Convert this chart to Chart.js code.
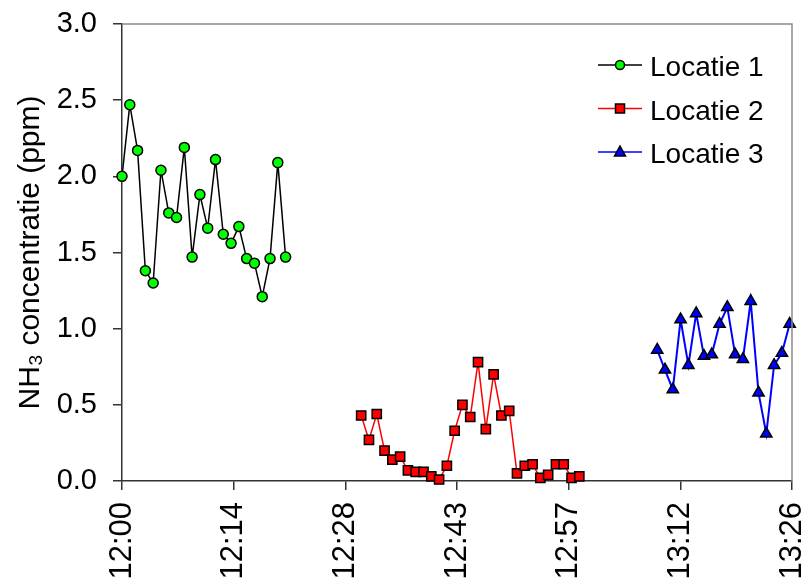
<!DOCTYPE html>
<html>
<head>
<meta charset="utf-8">
<script src="https://cdn.jsdelivr.net/npm/chart.js@4.4.1/dist/chart.umd.min.js"></script>
<style>
    html, body { margin: 0; padding: 0; background: #fff; overflow: hidden; }
    #wrap { width: 803px; height: 581px; position: relative; }
</style>
</head>
<body>
<div id="wrap"><canvas id="chart"></canvas></div>
<script>
// time axis in minutes after 12:00
const tickMinutes = [0, 14.33, 28.67, 43, 57.33, 71.67, 86];
const tickLabels = ['12:00', '12:14', '12:28', '12:43', '12:57', '13:12', '13:26'];

const loc1Time = [0, 1, 2, 3, 4, 5, 6, 7, 8, 9, 10, 11, 12, 13, 14, 15, 16, 17, 18, 19, 20, 21];
const loc1Values = [2.00, 2.47, 2.17, 1.38, 1.30, 2.04, 1.76, 1.73, 2.19, 1.47, 1.88,
                    1.66, 2.11, 1.62, 1.56, 1.67, 1.46, 1.43, 1.21, 1.46, 2.09, 1.47];

const loc2Time = [30.7, 31.7, 32.7, 33.7, 34.7, 35.7, 36.7, 37.7, 38.7, 39.7, 40.7, 41.7,
                  42.7, 43.7, 44.7, 45.7, 46.7, 47.7, 48.7, 49.7, 50.7, 51.7, 52.7, 53.7,
                  54.7, 55.7, 56.7, 57.7, 58.7];
const loc2Values = [0.43, 0.27, 0.44, 0.20, 0.14, 0.16, 0.07, 0.06, 0.06, 0.03, 0.01, 0.10,
                    0.33, 0.50, 0.42, 0.78, 0.34, 0.70, 0.43, 0.46, 0.05, 0.10, 0.11, 0.02,
                    0.04, 0.11, 0.11, 0.02, 0.03];

const loc3Time = [68.7, 69.7, 70.7, 71.7, 72.7, 73.7, 74.7, 75.7, 76.7, 77.7, 78.7, 79.7,
                  80.7, 81.7, 82.7, 83.7, 84.7, 85.7];
const loc3Values = [0.86, 0.73, 0.60, 1.06, 0.76, 1.10, 0.82, 0.83, 1.03, 1.14, 0.83, 0.80,
                    1.18, 0.58, 0.31, 0.76, 0.84, 1.03];

const seriesLabels = ['Locatie 1', 'Locatie 2', 'Locatie 3'];

const FONT = '"Liberation Sans", Arial, sans-serif';

function toPoints(times, values) {
    return times.map((t, i) => ({ x: t, y: values[i] }));
}

// grey frame on top and right of the plot area
const framePlugin = {
    id: 'frame',
    afterDraw(chart) {
        const { ctx, chartArea: a } = chart;
        ctx.save();
        ctx.strokeStyle = '#8a8a8a';
        ctx.lineWidth = 1.5;
        ctx.beginPath();
        ctx.moveTo(a.left, a.top);
        ctx.lineTo(a.right, a.top);
        ctx.lineTo(a.right, a.bottom);
        ctx.stroke();
        ctx.restore();
    }
};

// legend inside the plot, line with marker in the middle
const legendPlugin = {
    id: 'innerLegend',
    afterDraw(chart) {
        const ctx = chart.ctx;
        chart.data.datasets.forEach((ds, i) => {
            const y = 65 + i * 43.5;
            const mx = 620;
            ctx.save();
            ctx.strokeStyle = ds.borderColor;
            ctx.lineWidth = 1.5;
            ctx.beginPath();
            ctx.moveTo(598, y);
            ctx.lineTo(642, y);
            ctx.stroke();

            ctx.fillStyle = ds.pointBackgroundColor;
            ctx.strokeStyle = '#000';
            ctx.lineWidth = 1.5;
            ctx.beginPath();
            if (ds.pointStyle === 'circle') {
                ctx.arc(mx, y, 4.5, 0, Math.PI * 2);
            } else if (ds.pointStyle === 'rect') {
                ctx.rect(mx - 4.5, y - 4.5, 9, 9);
            } else {
                ctx.moveTo(mx, y - 6);
                ctx.lineTo(mx + 5.5, y + 4);
                ctx.lineTo(mx - 5.5, y + 4);
                ctx.closePath();
            }
            ctx.fill();
            ctx.stroke();

            ctx.fillStyle = '#000';
            ctx.font = '28px ' + FONT;
            ctx.textBaseline = 'alphabetic';
            ctx.textAlign = 'left';
            ctx.fillText(ds.label, 650, y + 11);
            ctx.restore();
        });
    }
};

const ctx = document.getElementById('chart').getContext('2d');
new Chart(ctx, {
    type: 'line',
    data: {
        datasets: [
            {
                label: seriesLabels[0],
                data: toPoints(loc1Time, loc1Values),
                borderColor: '#000000',
                borderWidth: 1.5,
                pointStyle: 'circle',
                pointRadius: 5,
                pointBackgroundColor: '#00ff00',
                pointBorderColor: '#000000',
                pointBorderWidth: 1.5,
                tension: 0,
                clip: false
            },
            {
                label: seriesLabels[1],
                data: toPoints(loc2Time, loc2Values),
                borderColor: '#ff0000',
                borderWidth: 1.5,
                pointStyle: 'rect',
                pointRadius: 6.5,
                pointBackgroundColor: '#ff0000',
                pointBorderColor: '#000000',
                pointBorderWidth: 1.5,
                tension: 0,
                clip: false
            },
            {
                label: seriesLabels[2],
                data: toPoints(loc3Time, loc3Values),
                borderColor: '#0000ff',
                borderWidth: 2,
                pointStyle: 'triangle',
                pointRadius: 6.5,
                pointBackgroundColor: '#0000ff',
                pointBorderColor: '#000000',
                pointBorderWidth: 1.5,
                tension: 0,
                clip: false
            }
        ]
    },
    options: {
        responsive: true,
        maintainAspectRatio: false,
        animation: false,
        layout: { padding: { top: 24, right: 11, left: 0, bottom: 0 } },
        plugins: {
            legend: { display: false },
            tooltip: { enabled: false }
        },
        scales: {
            x: {
                type: 'linear',
                min: 0,
                max: 86,
                afterBuildTicks: function(scale) {
                    scale.ticks = tickMinutes.map(v => ({ value: v }));
                },
                afterFit: function(scale) {
                    scale.height = 100;
                    scale.paddingLeft = 0;
                    scale.paddingRight = 0;
                },
                border: { display: true, color: '#333', width: 1.5 },
                grid: { drawOnChartArea: false, drawTicks: true, tickLength: 9, color: '#333', lineWidth: 1.5 },
                ticks: {
                    autoSkip: false,
                    minRotation: 90,
                    maxRotation: 90,
                    padding: 12,
                    color: '#000',
                    font: { family: FONT, size: 31 },
                    callback: function(value, index) {
                        return tickLabels[index];
                    }
                }
            },
            y: {
                min: 0,
                max: 3,
                afterFit: function(scale) {
                    scale.width = 122;
                    scale.paddingTop = 0;
                    scale.paddingBottom = 0;
                },
                border: { display: true, color: '#333', width: 1.5 },
                grid: { drawOnChartArea: false, drawTicks: true, tickLength: 9, color: '#333', lineWidth: 1.5 },
                ticks: {
                    stepSize: 0.5,
                    padding: 16,
                    color: '#000',
                    font: { family: FONT, size: 29 },
                    callback: function(value) {
                        return value.toFixed(1);
                    }
                },
                title: {
                    display: true,
                    text: 'NH₃ concentratie (ppm)',
                    color: '#000',
                    font: { family: FONT, size: 30 },
                    padding: { top: 13, bottom: 0 }
                }
            }
        }
    },
    plugins: [framePlugin, legendPlugin]
});
</script>
</body>
</html>
